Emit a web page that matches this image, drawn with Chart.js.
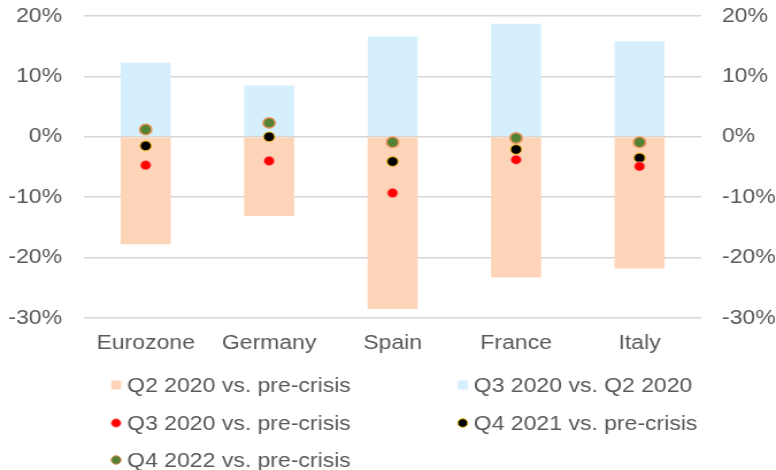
<!DOCTYPE html>
<html>
<head>
<meta charset="utf-8">
<script src="https://cdn.jsdelivr.net/npm/chart.js@4/dist/chart.umd.min.js"></script>
<style>
  html, body { margin: 0; padding: 0; background: #ffffff; overflow: hidden; }
</style>
</head>
<body>
<canvas id="c" width="675" height="470" style="display:block;width:776px;height:470px"></canvas>
<script>
// Output change by country, in percent
const categories = ['Eurozone', 'Germany', 'Spain', 'France', 'Italy'];
const q2VsPreCrisis = [-17.8, -13.1, -28.5, -23.3, -21.8];
const q3VsQ2 = [12.3, 8.5, 16.6, 18.7, 15.8];
const q3VsPreCrisis = [-4.7, -4.0, -9.3, -3.8, -4.9];
const q4y21VsPreCrisis = [-1.5, 0.0, -4.1, -2.1, -3.5];
const q4y22VsPreCrisis = [1.2, 2.3, -0.9, -0.2, -0.9];
const yTicks = [-30, -20, -10, 0, 10, 20];

const seriesNames = [
  'Q2 2020 vs. pre-crisis',
  'Q3 2020 vs. Q2 2020',
  'Q3 2020 vs. pre-crisis',
  'Q4 2021 vs. pre-crisis',
  'Q4 2022 vs. pre-crisis'
];

const FONT = 'Liberation Sans, Arial, sans-serif';
const TEXT = '#595959';

function dots(label, data, fill, ring, radius, ringWidth) {
  return {
    type: 'line',
    label,
    data,
    showLine: false,
    pointRadius: radius,
    pointHoverRadius: radius,
    pointBackgroundColor: fill,
    pointBorderColor: ring,
    pointBorderWidth: ringWidth,
    order: 0,
    yAxisID: 'y'
  };
}

// Two-column legend underneath the plot
const columnLegend = {
  id: 'columnLegend',
  afterDraw(chart) {
    const ctx = chart.ctx;
    const colX = [101, 402.5];
    const rowY = [385, 423, 460];
    ctx.save();
    ctx.font = '20px ' + FONT;
    ctx.textBaseline = 'middle';
    ctx.textAlign = 'left';
    chart.data.datasets.forEach((ds, i) => {
      const x = colX[i % 2];
      const y = rowY[Math.floor(i / 2)];
      if (ds.type === 'bar') {
        ctx.fillStyle = ds.backgroundColor;
        ctx.fillRect(x - 4.3, y - 4.5, 8.7, 9);
      } else {
        ctx.beginPath();
        ctx.arc(x, y, 4.3, 0, Math.PI * 2);
        ctx.fillStyle = ds.pointBackgroundColor;
        ctx.fill();
        ctx.lineWidth = 1;
        ctx.strokeStyle = ds.pointBorderColor;
        ctx.stroke();
      }
      ctx.fillStyle = TEXT;
      ctx.fillText(ds.label, x + 9.6, y + 1);
    });
    ctx.restore();
  }
};

const tickFmt = v => v + '%';

// Fixed axis width; tick-label padding should not push the plot down
const fitAxis = width => s => {
  s.width = width;
  s.paddingTop = 0;
  s.paddingBottom = 0;
};

new Chart(document.getElementById('c'), {
  data: {
    labels: categories,
    datasets: [
      {
        type: 'bar',
        label: seriesNames[0],
        data: q2VsPreCrisis,
        backgroundColor: '#fdd4b7',
        grouped: false,
        categoryPercentage: 1,
        barPercentage: 0.405,
        order: 1,
        yAxisID: 'y'
      },
      {
        type: 'bar',
        label: seriesNames[1],
        data: q3VsQ2,
        backgroundColor: '#d6effc',
        grouped: false,
        categoryPercentage: 1,
        barPercentage: 0.405,
        order: 1,
        yAxisID: 'y'
      },
      dots(seriesNames[2], q3VsPreCrisis, '#ff0000', '#ff9a9a', 4.6, 0.8),
      dots(seriesNames[3], q4y21VsPreCrisis, '#000000', '#e8b400', 4.8, 1),
      dots(seriesNames[4], q4y22VsPreCrisis, '#548235', '#e8925a', 5.2, 1.5)
    ]
  },
  options: {
    responsive: false,
    devicePixelRatio: 1,
    animation: false,
    events: [],
    layout: { padding: { top: 16, bottom: 102, left: 0, right: 0 } },
    plugins: {
      legend: { display: false },
      tooltip: { enabled: false }
    },
    scales: {
      x: {
        offset: true,
        grid: { display: false, drawTicks: false },
        border: { display: false },
        ticks: { color: TEXT, font: { family: FONT, size: 20 }, padding: 13, maxRotation: 0 }
      },
      y: {
        position: 'left',
        min: -30,
        max: 20,
        afterBuildTicks: s => { s.ticks = yTicks.map(v => ({ value: v })); },
        afterFit: fitAxis(73),
        grid: { color: '#d6d6d6', lineWidth: 1.6, drawTicks: false },
        border: { display: false },
        ticks: { callback: tickFmt, color: TEXT, font: { family: FONT, size: 20 }, padding: 19 }
      },
      y2: {
        position: 'right',
        min: -30,
        max: 20,
        afterBuildTicks: s => { s.ticks = yTicks.map(v => ({ value: v })); },
        afterFit: fitAxis(65),
        grid: { display: false, drawTicks: false },
        border: { display: false },
        ticks: { callback: tickFmt, color: TEXT, font: { family: FONT, size: 20 }, padding: 18 }
      }
    }
  },
  plugins: [columnLegend]
});
</script>
</body>
</html>
